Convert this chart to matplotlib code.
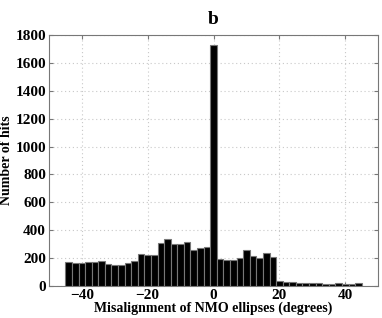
import matplotlib
matplotlib.use("Agg")
import matplotlib.pyplot as plt
import numpy as np

centers = list(range(-44, 46, 2))
counts = [175, 165, 168, 175, 172, 180, 155, 152, 152, 168, 180,
          228, 225, 222, 305, 335, 302, 298, 315, 258, 275, 282,
          1730,
          195, 188, 188, 198, 258, 215, 200, 240, 205,
          38, 28, 28, 22, 20, 22, 22, 15, 15, 25, 15, 12, 25]
xticks = [-40, -20, 0, 20, 40]
yticks = list(range(0, 1801, 200))

plt.rcParams['font.family'] = ['Liberation Serif', 'DejaVu Serif']
plt.rcParams['font.weight'] = 'bold'

fig = plt.figure(figsize=(3.82, 3.18), dpi=100)
ax = fig.add_axes([0.128, 0.1006, 0.862, 0.7894])
ax.bar(centers, counts, width=2, color='black', edgecolor='#777777', linewidth=0.8, zorder=3)
ax.set_xlim(-50, 50)
ax.set_ylim(0, 1800)
ax.set_xticks(xticks)
ax.set_yticks(yticks)
ax.grid(True, linestyle=(0, (1, 2.5)), color='#c8c8c8', linewidth=0.8, zorder=0)
ax.tick_params(direction='in', top=True, right=True, labelsize=11, length=3, color='#777777', pad=2)
for lab in ax.get_xticklabels() + ax.get_yticklabels():
    lab.set_fontweight('bold')
for s in ax.spines.values():
    s.set_color('#777777')
ax.set_xlabel('Misalignment of NMO ellipses (degrees)', fontsize=10, fontweight='bold', labelpad=0)
ax.set_ylabel('Number of hits', fontsize=10, fontweight='bold', labelpad=2)
ax.set_title('b', fontsize=14, fontweight='bold', pad=8)
fig.savefig('out.png', dpi=100)
